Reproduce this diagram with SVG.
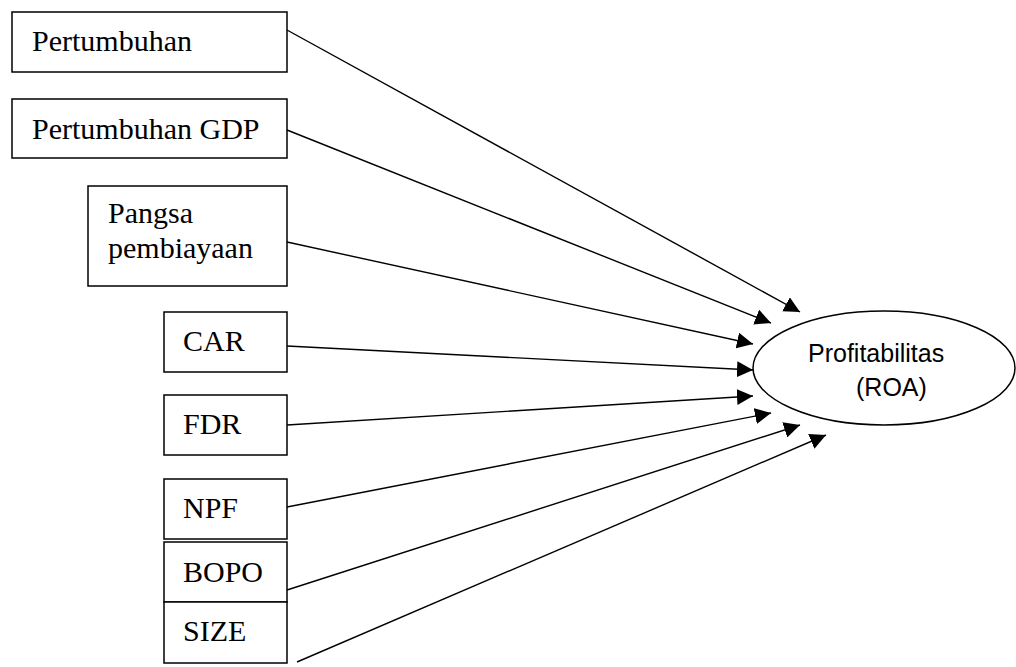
<svg xmlns="http://www.w3.org/2000/svg" width="1016" height="667" viewBox="0 0 1016 667">
<style>
.box{fill:#fff;stroke:#000;stroke-width:1.5}
.t{font-family:"Liberation Serif","Times New Roman",serif;font-size:30px;fill:#000}
.s{font-family:"Liberation Sans",Arial,sans-serif;font-size:25px;fill:#000}
.c line{stroke:#000;stroke-width:1.4;marker-end:url(#ah)}
</style>
<defs>
<marker id="ah" markerUnits="userSpaceOnUse" markerWidth="16" markerHeight="16" viewBox="0 0 16 16" refX="16" refY="8" orient="auto">
<path d="M0,0 L16,8 L0,16 Z" fill="#000"/>
</marker>
</defs>
<rect width="1016" height="667" fill="#fff"/>
<g id="pertumbuhan"><rect class="box" x="12" y="12" width="275" height="60"/><text class="t" x="32" y="51">Pertumbuhan</text></g>
<g id="gdp"><rect class="box" x="12" y="99" width="275" height="59"/><text class="t" x="32" y="139">Pertumbuhan GDP</text></g>
<g id="pangsa"><rect class="box" x="88" y="186" width="199" height="100"/><text class="t" x="108" y="223">Pangsa</text><text class="t" x="108" y="258">pembiayaan</text></g>
<g id="car"><rect class="box" x="164" y="312" width="123" height="60"/><text class="t" x="183" y="351">CAR</text></g>
<g id="fdr"><rect class="box" x="164" y="395" width="123" height="60"/><text class="t" x="183" y="434">FDR</text></g>
<g id="npf"><rect class="box" x="164" y="479" width="123" height="60"/><text class="t" x="183" y="518">NPF</text></g>
<g id="bopo"><rect class="box" x="164" y="542" width="123" height="60"/><text class="t" x="183" y="582">BOPO</text></g>
<g id="size"><rect class="box" x="164" y="602" width="123" height="61"/><text class="t" x="183" y="641">SIZE</text></g>
<g id="roa"><ellipse cx="884" cy="368" rx="131" ry="57" fill="#fff" stroke="#000" stroke-width="1.5"/><text class="s" x="808" y="362">Profitabilitas</text><text class="s" x="856" y="396">(ROA)</text></g>
<g class="c" id="connectors">
<line x1="287" y1="30" x2="800" y2="312"/>
<line x1="287" y1="130" x2="771" y2="323"/>
<line x1="287" y1="242" x2="753" y2="344"/>
<line x1="287" y1="346" x2="753" y2="370"/>
<line x1="287" y1="425" x2="753" y2="396"/>
<line x1="287" y1="507" x2="771" y2="413"/>
<line x1="287" y1="590" x2="800" y2="425"/>
<line x1="297" y1="662" x2="826" y2="435"/>
</g>
</svg>
